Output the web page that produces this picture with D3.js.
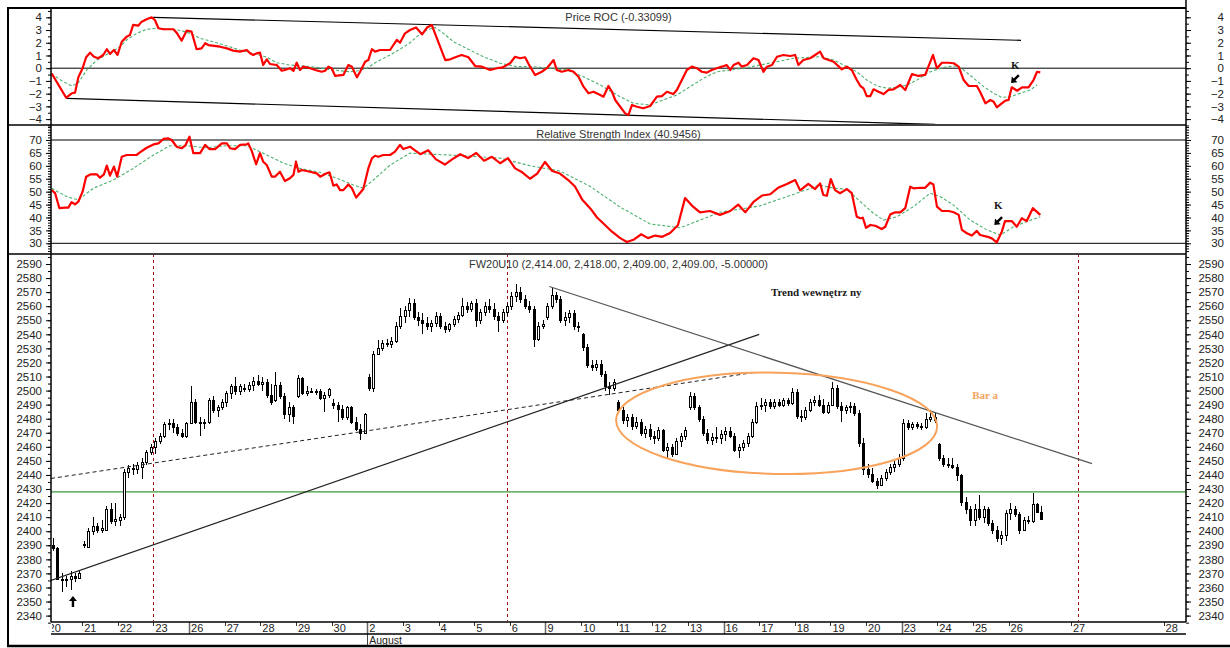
<!DOCTYPE html>
<html>
<head>
<meta charset="utf-8">
<script src="https://d3js.org/d3.v7.min.js"></script>
<style>
body { margin: 0; background: #fff; }
svg { display: block; }
</style>
</head>
<body>
<div id="chart"></div>
<script>
// ---- data (x is in trading-day units: 0 = start of Jul 20) ----
var dayLabels = ["20","21","22","23","26","27","28","29","30","2","3","4","5","6","9","10","11","12","13","16","17","18","19","20","23","24","25","26"];
var futureLabels = ["27", "28"];
var futureSlots = [28.75, 31.35];
var weekStartSlots = [4, 9, 14, 19, 24];
var monthLabel = "August";
var monthStartSlot = 9;
var markerDays = [3.0, 12.92, 28.95];

var rocTitle = "Price ROC (-0.33099)";
var rsiTitle = "Relative Strength Index (40.9456)";
var priceTitle = "FW20U10 (2,414.00, 2,418.00, 2,409.00, 2,409.00, -5.00000)";

var rocTicks = [-4, -3, -2, -1, 0, 1, 2, 3, 4];
var rsiTicks = [30, 35, 40, 45, 50, 55, 60, 65, 70];
var priceTicks = [2340,2350,2360,2370,2380,2390,2400,2410,2420,2430,2440,2450,2460,2470,2480,2490,2500,2510,2520,2530,2540,2550,2560,2570,2580,2590];
var rocLevels = [0];
var rsiLevels = [30, 70];
var supportLevel = 2428;

// hourly candles, 8 per session: [open, high, low, close]
var ohlc = [
  [[2392,2396,2388,2390],[2390,2395,2386,2388],[2388,2389,2365,2366],[2366,2370,2357,2365],[2365,2368,2360,2366],[2366,2372,2358,2368],[2368,2370,2364,2367],[2367,2372,2366,2370]],
  [[2390,2393,2388,2391],[2389,2402,2388,2400],[2400,2410,2397,2404],[2404,2406,2399,2401],[2401,2408,2399,2402],[2401,2418,2400,2416],[2416,2420,2405,2407],[2407,2420,2404,2409]],
  [[2408,2412,2404,2410],[2410,2444,2408,2442],[2442,2447,2438,2445],[2445,2448,2440,2444],[2444,2449,2441,2447],[2446,2452,2437,2449],[2449,2458,2447,2456],[2456,2462,2454,2460]],
  [[2460,2466,2455,2464],[2464,2470,2462,2468],[2468,2478,2466,2476],[2476,2480,2472,2477],[2477,2480,2470,2474],[2474,2476,2468,2470],[2470,2473,2466,2468],[2468,2478,2466,2477]],
  [[2477,2503,2476,2492],[2492,2494,2476,2478],[2478,2481,2468,2477],[2477,2480,2473,2478],[2478,2495,2476,2493],[2493,2496,2484,2486],[2486,2490,2481,2488],[2488,2494,2486,2492]],
  [[2492,2500,2488,2498],[2498,2505,2494,2503],[2503,2510,2497,2500],[2500,2505,2497,2503],[2502,2505,2499,2501],[2501,2506,2499,2504],[2504,2510,2500,2507],[2507,2511,2503,2505]],
  [[2505,2510,2500,2506],[2506,2508,2495,2497],[2497,2505,2490,2492],[2493,2513,2492,2504],[2504,2506,2494,2496],[2496,2498,2480,2483],[2483,2492,2478,2488],[2488,2490,2476,2482]],
  [[2496,2511,2495,2509],[2509,2510,2497,2498],[2498,2503,2496,2500],[2500,2502,2498,2499],[2499,2501,2497,2500],[2500,2501,2493,2495],[2495,2499,2485,2497],[2497,2502,2495,2501]],
  [[2491,2494,2487,2490],[2490,2492,2478,2487],[2487,2490,2479,2481],[2481,2489,2479,2488],[2488,2489,2476,2478],[2478,2481,2471,2473],[2473,2476,2465,2470],[2470,2484,2469,2483]],
  [[2510,2512,2500,2502],[2502,2528,2499,2526],[2526,2536,2525,2530],[2530,2536,2528,2534],[2534,2537,2531,2533],[2533,2538,2530,2535],[2535,2549,2534,2546],[2546,2559,2544,2553]],
  [[2553,2560,2548,2557],[2557,2566,2552,2562],[2562,2565,2550,2552],[2552,2556,2546,2550],[2550,2555,2540,2548],[2548,2552,2543,2546],[2546,2550,2542,2548],[2548,2556,2545,2553]],
  [[2553,2555,2544,2546],[2546,2549,2541,2544],[2544,2548,2542,2547],[2547,2553,2545,2551],[2551,2556,2548,2554],[2554,2566,2552,2560],[2560,2563,2555,2558],[2558,2564,2556,2562]],
  [[2562,2565,2545,2550],[2550,2558,2547,2556],[2556,2563,2553,2560],[2560,2565,2555,2558],[2558,2562,2550,2553],[2553,2556,2542,2550],[2550,2558,2548,2556],[2556,2562,2553,2560]],
  [[2560,2570,2557,2567],[2567,2576,2563,2570],[2570,2574,2562,2565],[2565,2568,2558,2560],[2560,2564,2555,2558],[2558,2560,2531,2537],[2537,2549,2535,2546],[2546,2550,2544,2547]],
  [[2552,2562,2550,2560],[2560,2573,2558,2568],[2568,2570,2562,2565],[2565,2567,2548,2550],[2550,2556,2546,2552],[2552,2557,2548,2555],[2555,2557,2543,2546],[2546,2549,2542,2545]],
  [[2540,2541,2528,2531],[2531,2533,2516,2518],[2518,2522,2514,2517],[2517,2522,2514,2519],[2519,2522,2510,2512],[2512,2514,2500,2503],[2503,2506,2497,2502],[2502,2508,2500,2506]],
  [[2492,2493,2484,2486],[2486,2488,2476,2479],[2479,2483,2474,2481],[2481,2483,2472,2475],[2475,2481,2473,2478],[2478,2480,2468,2470],[2470,2475,2466,2473],[2473,2476,2465,2468]],
  [[2468,2471,2462,2466],[2466,2474,2464,2472],[2472,2473,2456,2458],[2458,2463,2452,2460],[2460,2462,2453,2455],[2455,2466,2454,2464],[2464,2470,2460,2468],[2468,2474,2465,2472]],
  [[2488,2499,2486,2496],[2496,2498,2486,2488],[2488,2490,2478,2480],[2480,2482,2468,2470],[2470,2473,2462,2465],[2465,2470,2461,2467],[2467,2474,2463,2466],[2466,2472,2462,2469]],
  [[2469,2474,2464,2471],[2471,2474,2466,2468],[2468,2470,2456,2458],[2458,2462,2452,2460],[2460,2465,2457,2463],[2463,2470,2460,2468],[2468,2480,2466,2478],[2478,2492,2476,2489]],
  [[2489,2495,2486,2490],[2490,2494,2485,2492],[2492,2494,2487,2489],[2489,2494,2487,2492],[2492,2494,2488,2490],[2490,2495,2488,2493],[2493,2495,2489,2491],[2491,2502,2490,2499]],
  [[2499,2501,2480,2482],[2482,2486,2478,2481],[2481,2488,2479,2486],[2486,2494,2485,2492],[2492,2496,2489,2493],[2493,2497,2488,2490],[2490,2494,2483,2485],[2485,2492,2483,2490]],
  [[2490,2506,2489,2502],[2502,2504,2487,2489],[2489,2492,2478,2486],[2486,2490,2483,2488],[2488,2492,2484,2489],[2489,2491,2482,2484],[2484,2486,2460,2463],[2463,2466,2440,2444]],
  [[2444,2448,2438,2441],[2441,2445,2434,2436],[2436,2438,2430,2433],[2433,2440,2432,2438],[2438,2444,2436,2442],[2442,2448,2440,2446],[2446,2450,2442,2448],[2448,2455,2446,2452]],
  [[2452,2480,2450,2477],[2477,2479,2472,2474],[2474,2478,2472,2476],[2476,2478,2473,2475],[2475,2477,2472,2474],[2474,2484,2473,2480],[2480,2486,2478,2481],[2481,2484,2477,2479]],
  [[2462,2463,2450,2452],[2452,2454,2446,2448],[2448,2452,2445,2447],[2447,2452,2444,2446],[2446,2448,2436,2440],[2440,2441,2418,2421],[2421,2424,2412,2416],[2416,2418,2404,2408]],
  [[2408,2419,2404,2416],[2416,2426,2408,2410],[2410,2418,2406,2416],[2416,2417,2404,2406],[2406,2408,2398,2401],[2401,2404,2392,2395],[2395,2400,2390,2397],[2397,2415,2393,2413]],
  [[2413,2420,2408,2416],[2416,2418,2410,2412],[2412,2414,2398,2401],[2401,2410,2400,2408],[2408,2411,2405,2407],[2407,2427,2406,2419],[2419,2420,2413,2414],[2414,2418,2409,2409]]
];

// Price ROC [day, value]
var rocLine = [[0.14,-0.40],[0.55,-2.32],[0.71,-1.97],[0.80,-1.92],[0.89,-0.72],[1.01,0.0],[1.11,0.86],[1.22,1.22],[1.33,0.90],[1.45,0.78],[1.59,1.04],[1.69,1.49],[1.78,1.12],[1.89,1.43],[1.99,1.04],[2.11,2.08],[2.25,2.48],[2.34,2.61],[2.43,3.40],[2.57,3.34],[2.67,3.66],[2.81,3.84],[2.95,4.0],[3.04,3.79],[3.14,3.14],[3.28,3.06],[3.56,3.06],[3.65,2.79],[3.79,2.16],[3.93,2.95],[4.07,2.87],[4.21,1.49],[4.35,1.56],[4.45,1.96],[4.54,1.82],[4.87,1.69],[5.06,1.56],[5.24,1.38],[5.43,1.30],[5.62,1.43],[5.71,1.17],[5.80,1.04],[5.90,1.17],[5.99,1.22],[6.08,0.25],[6.18,0.70],[6.27,0.33],[6.46,0.25],[6.60,-0.20],[6.69,-0.14],[6.83,0.0],[6.93,-0.20],[7.02,0.43],[7.11,-0.14],[7.21,0.12],[7.40,0.0],[7.54,-0.14],[7.72,-0.28],[7.82,-0.20],[7.91,0.12],[8.00,0.0],[8.10,-0.61],[8.33,-0.53],[8.47,0.25],[8.57,0.12],[8.71,-0.72],[8.80,-0.28],[8.94,0.51],[9.03,0.64],[9.13,1.49],[9.22,1.30],[9.36,1.43],[9.64,1.43],[9.83,2.22],[9.92,2.0],[10.06,2.74],[10.20,3.0],[10.37,3.2],[10.54,2.66],[10.68,3.2],[10.81,3.40],[11.19,0.64],[11.33,0.70],[11.51,0.90],[11.65,1.04],[11.84,0.86],[12.03,0.17],[12.22,0.12],[12.45,-0.14],[12.64,0.0],[12.78,0.04],[13.01,0.39],[13.15,0.90],[13.29,0.78],[13.43,0.86],[13.57,0.12],[13.71,-0.53],[13.90,-0.28],[14.04,0.0],[14.23,0.64],[14.32,-0.14],[14.46,-0.28],[14.65,-0.14],[14.79,-0.28],[14.93,-0.67],[15.07,-1.45],[15.21,-1.97],[15.35,-1.85],[15.54,-2.11],[15.63,-2.24],[15.77,-1.40],[15.87,-1.85],[15.96,-2.50],[16.10,-3.03],[16.24,-3.55],[16.33,-3.68],[16.43,-2.89],[16.57,-3.03],[16.75,-3.15],[16.94,-2.97],[17.13,-2.24],[17.27,-2.19],[17.41,-1.85],[17.59,-2.03],[17.69,-1.71],[17.83,-0.93],[17.97,-0.14],[18.11,0.12],[18.25,0.0],[18.39,-0.28],[18.53,-0.35],[18.67,-0.14],[18.81,0.0],[18.95,0.12],[19.09,0.25],[19.19,-0.14],[19.28,0.25],[19.42,0.43],[19.51,0.12],[19.66,0.25],[19.84,0.78],[19.98,0.64],[20.12,-0.28],[20.22,0.12],[20.36,0.25],[20.50,0.90],[20.68,1.04],[20.87,0.96],[21.01,1.04],[21.10,0.25],[21.24,0.64],[21.43,0.78],[21.57,1.04],[21.71,1.30],[21.81,0.78],[22.09,0.51],[22.32,-0.09],[22.46,0.12],[22.60,-0.14],[22.74,-0.93],[22.84,-1.40],[22.93,-1.58],[23.02,-2.19],[23.12,-2.19],[23.21,-1.66],[23.35,-1.85],[23.49,-2.03],[23.63,-1.71],[23.77,-1.66],[23.96,-1.32],[24.10,-1.71],[24.29,-0.46],[24.47,-0.61],[24.66,-0.53],[24.75,0.12],[24.88,1.04],[24.99,0.0],[25.13,0.43],[25.31,0.43],[25.46,0.39],[25.60,0.12],[25.74,-0.93],[25.88,-1.40],[26.11,-1.40],[26.20,-1.85],[26.35,-2.76],[26.49,-2.50],[26.58,-2.63],[26.67,-3.07],[26.81,-2.76],[26.91,-2.55],[27.00,-2.50],[27.09,-1.50],[27.24,-1.77],[27.38,-1.50],[27.56,-1.50],[27.70,-0.93],[27.80,-0.28],[27.89,-0.33]];
var rocSignal = [[0.14,-0.46],[0.47,-1.06],[0.71,-1.40],[0.89,-1.14],[1.13,-0.14],[1.41,0.64],[1.78,1.22],[2.06,1.69],[2.25,2.22],[2.53,2.74],[2.81,3.06],[3.09,3.14],[3.46,3.08],[3.79,2.95],[4.07,2.69],[4.31,2.35],[4.68,2.08],[5.06,1.75],[5.43,1.43],[5.80,1.17],[6.18,0.86],[6.46,0.43],[6.83,0.25],[7.21,0.17],[7.58,0.07],[7.91,-0.09],[8.24,-0.20],[8.52,-0.28],[8.75,-0.20],[8.99,0.0],[9.27,0.51],[9.64,1.04],[9.92,1.49],[10.20,2.0],[10.39,2.48],[10.67,3.0],[10.90,3.21],[11.14,2.74],[11.42,2.08],[11.79,1.56],[12.26,0.90],[12.73,0.39],[13.20,0.12],[13.66,0.12],[14.13,0.0],[14.60,-0.14],[15.07,-0.67],[15.54,-1.32],[16.01,-2.11],[16.47,-2.76],[16.94,-2.89],[17.31,-2.50],[17.69,-2.11],[18.06,-1.45],[18.44,-0.79],[18.81,-0.28],[19.19,-0.14],[19.56,0.0],[20.03,0.25],[20.50,0.51],[20.96,0.78],[21.43,0.86],[21.71,0.90],[22.09,0.64],[22.46,0.12],[22.74,-0.28],[23.02,-0.93],[23.31,-1.40],[23.59,-1.58],[23.87,-1.50],[24.15,-1.32],[24.43,-0.93],[24.71,-0.40],[24.99,-0.09],[25.27,0.12],[25.55,0.17],[25.74,-0.14],[26.02,-0.79],[26.30,-1.45],[26.58,-1.97],[26.81,-2.29],[27.05,-2.24],[27.33,-1.97],[27.61,-1.71],[27.80,-1.32]];
var rocUpperTrend = [[2.99, 4.0], [27.35, 2.19]];
var rocLowerTrend = [[0.56, -2.37], [24.94, -4.42]];

// RSI [day, value]
var rsiLine = [[0.14,50.6],[0.24,49.4],[0.36,43.6],[0.52,43.8],[0.61,43.8],[0.70,45.9],[0.80,45.1],[0.89,46.1],[1.01,50.0],[1.11,55.8],[1.24,56.7],[1.41,56.7],[1.50,55.4],[1.61,56.7],[1.69,60.1],[1.78,56.2],[1.89,59.7],[1.98,55.8],[2.11,63.5],[2.25,64.2],[2.53,64.2],[2.62,65.2],[2.81,67.0],[3.00,68.3],[3.14,68.7],[3.28,70.4],[3.42,70.6],[3.51,70.0],[3.65,67.4],[3.79,66.8],[3.89,67.8],[4.01,71.3],[4.12,64.9],[4.31,64.9],[4.45,68.1],[4.57,66.5],[4.73,66.5],[4.92,68.7],[5.06,68.7],[5.15,66.8],[5.29,66.5],[5.43,68.1],[5.62,68.3],[5.66,68.7],[5.76,65.7],[5.88,60.6],[5.99,64.9],[6.08,61.6],[6.18,60.3],[6.32,55.8],[6.41,55.8],[6.55,57.7],[6.69,54.1],[6.83,55.2],[6.93,56.5],[7.00,61.6],[7.07,57.7],[7.16,58.4],[7.39,57.7],[7.58,57.1],[7.68,55.8],[7.86,57.1],[7.94,57.5],[8.05,52.3],[8.14,52.8],[8.24,50.6],[8.33,50.6],[8.47,52.8],[8.57,51.3],[8.69,47.7],[8.75,48.7],[8.89,51.0],[9.03,59.0],[9.13,62.9],[9.22,63.9],[9.31,63.5],[9.45,64.2],[9.64,64.2],[9.78,65.5],[9.92,68.1],[10.01,66.5],[10.20,67.4],[10.29,66.5],[10.49,64.5],[10.71,66.0],[10.93,62.5],[11.18,60.5],[11.38,62.5],[11.61,64.5],[11.83,63.0],[12.06,65.0],[12.28,62.0],[12.50,63.5],[12.73,61.0],[12.95,63.0],[13.15,59.0],[13.35,57.5],[13.57,55.0],[13.77,57.0],[13.99,61.5],[14.19,58.0],[14.41,57.0],[14.64,54.5],[14.83,52.0],[15.03,47.0],[15.26,43.5],[15.45,40.0],[15.68,37.0],[15.87,34.5],[16.10,32.0],[16.29,30.5],[16.49,31.5],[16.69,33.5],[16.88,32.0],[17.08,33.0],[17.28,32.5],[17.50,34.0],[17.72,37.0],[17.92,47.5],[18.12,44.5],[18.34,42.0],[18.62,42.5],[18.90,41.0],[19.19,42.5],[19.41,45.0],[19.61,42.0],[19.84,46.0],[20.08,48.5],[20.31,49.0],[20.53,51.5],[20.78,53.0],[21.01,54.5],[21.15,50.5],[21.38,53.0],[21.57,51.0],[21.71,53.2],[21.80,48.7],[21.90,48.4],[22.01,54.9],[22.13,50.6],[22.27,49.4],[22.46,51.0],[22.60,49.4],[22.74,40.3],[22.84,39.7],[22.91,39.9],[23.00,36.0],[23.12,37.1],[23.26,36.8],[23.44,35.5],[23.54,36.4],[23.68,41.2],[23.82,42.0],[23.96,42.0],[24.10,43.6],[24.24,51.9],[24.33,51.3],[24.52,51.5],[24.66,51.5],[24.80,53.5],[24.89,52.8],[24.99,44.2],[25.13,42.5],[25.32,42.5],[25.46,42.0],[25.60,41.0],[25.69,35.2],[25.83,33.9],[25.97,33.0],[26.11,34.8],[26.20,33.2],[26.39,32.6],[26.53,31.9],[26.67,30.4],[26.81,34.5],[26.90,38.6],[27.09,38.6],[27.23,36.4],[27.37,39.7],[27.51,38.6],[27.68,43.6],[27.89,41.0]];
var rsiSignal = [[0.14,51.3],[0.56,48.1],[0.89,46.8],[1.31,51.3],[1.87,54.5],[2.43,59.0],[3.00,64.2],[3.46,67.8],[3.93,67.8],[4.49,67.0],[5.06,67.8],[5.62,67.8],[6.08,64.9],[6.65,61.0],[7.11,59.0],[7.67,57.5],[8.14,55.2],[8.61,52.6],[8.89,51.3],[9.17,54.5],[9.64,60.3],[10.20,64.9],[10.77,64.5],[11.61,64.0],[12.73,63.0],[13.57,60.0],[14.41,58.0],[15.26,52.0],[16.10,44.0],[16.94,37.5],[17.78,36.0],[18.34,39.0],[18.90,42.0],[20.02,44.5],[20.87,48.5],[21.71,52.6],[22.09,51.3],[22.46,51.0],[22.84,46.1],[23.21,41.6],[23.49,39.0],[23.87,40.3],[24.33,44.2],[24.80,49.4],[25.08,48.1],[25.46,44.8],[25.92,39.0],[26.39,35.2],[26.77,33.2],[27.14,36.4],[27.51,38.4],[27.89,40.3]];

// price-panel drawings [day, price]
var trendUp = [[0.124, 2365], [20.0, 2540]];
var trendSupport = [[0.124, 2437.5], [19.89, 2513]];
var trendDown = [[14.11, 2574], [29.34, 2448]];
var zone = {day: 20.49, price: 2476.7, days: 4.506, points: 36};
var notes = [
  {text: "Trend wewnętrz ny", day: 20.33, price: 2567, color: "#1a1a1a"},
  {text: "Bar a", day: 25.98, price: 2494, color: "#f4a460"}
];

// ---- layout ----
var W = 1230, H = 648;
var L = 51, R = 1186;
var rocTop = 8, rocBot = 125, rsiBot = 254, mainBot = 622, axisMid = 634, frameBot = 646;
var sans = "'Liberation Sans', Arial, sans-serif";
var serif = "'Liberation Serif', 'Times New Roman', serif";

var svg = d3.select("#chart").append("svg").attr("width", W).attr("height", H);

var x = d3.scaleLinear().domain([0.124, 31.98]).range([L, R]);
var yRoc = d3.scaleLinear().domain([-4, 4]).range([119.1, 17.3]);
var yRsi = d3.scaleLinear().domain([30, 70]).range([243.3, 140]);
var yPx = d3.scaleLinear().domain([2340, 2590]).range([615.6, 264]);

var defs = svg.append("defs");
function clip(id, x0, y0, x1, y1) {
    defs.append("clipPath").attr("id", id).append("rect")
        .attr("x", x0).attr("y", y0).attr("width", x1 - x0).attr("height", y1 - y0);
}
clip("cRoc", L, rocTop + 1, R, rocBot - 1);
clip("cRsi", L, rocBot + 1, R, rsiBot - 1);
clip("cMain", L, rsiBot + 1, R, mainBot - 1);
clip("cAxis", L + 1, mainBot, R, frameBot);

// frame lines
function hline(y, x1, x2, w) {
    svg.append("line").attr("x1", x1).attr("x2", x2).attr("y1", y).attr("y2", y)
        .attr("stroke", "#000").attr("stroke-width", w);
}
function vline(xp, y1, y2, w, col) {
    svg.append("line").attr("x1", xp).attr("x2", xp).attr("y1", y1).attr("y2", y2)
        .attr("stroke", col || "#000").attr("stroke-width", w);
}

// y axes: minor ticks + labelled ticks, both sides
function yAxes(scale, major, minor) {
    [[L, d3.axisLeft], [R, d3.axisRight]].forEach(function(s) {
        svg.append("g").attr("transform", "translate(" + s[0] + ",0)")
            .call(s[1](scale).tickValues(minor).tickSize(3).tickFormat(""))
            .call(function(g) { g.select(".domain").remove(); });
        var g = svg.append("g").attr("transform", "translate(" + s[0] + ",0)")
            .call(s[1](scale).tickValues(major).tickSize(5).tickPadding(4).tickFormat(d3.format("d")))
            .call(function(g) { g.select(".domain").remove(); });
        g.attr("font-family", sans).attr("font-size", 11.5);
        g.selectAll("text").attr("fill", "#222");
        if (s[0] == R) g.selectAll("text").attr("text-anchor", "end").attr("x", 38);
    });
}
yAxes(yRoc, rocTicks, d3.range(-4.5, 4.6, 0.5));
yAxes(yRsi, rsiTicks, d3.range(27, 76, 1));
yAxes(yPx, priceTicks, d3.range(2335, 2596, 5));

var line = function(ys) {
    return d3.line().x(function(d) { return x(d[0]); }).y(function(d) { return ys(d[1]); });
};

// ---- ROC panel ----
var gRoc = svg.append("g").attr("clip-path", "url(#cRoc)");
gRoc.selectAll(".lvl").data(rocLevels).enter().append("line")
    .attr("x1", L).attr("x2", R).attr("y1", function(d) { return yRoc(d); }).attr("y2", function(d) { return yRoc(d); })
    .attr("stroke", "#000").attr("stroke-width", 1);
[rocUpperTrend, rocLowerTrend].forEach(function(t) {
    gRoc.append("path").attr("d", line(yRoc)(t)).attr("fill", "none").attr("stroke", "#000").attr("stroke-width", 1.2);
});
gRoc.append("path").attr("d", line(yRoc)(rocSignal)).attr("fill", "none")
    .attr("stroke", "#4cb06e").attr("stroke-width", 1.1).attr("stroke-dasharray", "3,2");
gRoc.append("path").attr("d", line(yRoc)(rocLine)).attr("fill", "none")
    .attr("stroke", "#ff0000").attr("stroke-width", 2.2).attr("stroke-linejoin", "round");

// ---- RSI panel ----
var gRsi = svg.append("g").attr("clip-path", "url(#cRsi)");
gRsi.selectAll(".lvl").data(rsiLevels).enter().append("line")
    .attr("x1", L).attr("x2", R).attr("y1", function(d) { return yRsi(d); }).attr("y2", function(d) { return yRsi(d); })
    .attr("stroke", "#000").attr("stroke-width", 1);
gRsi.append("path").attr("d", line(yRsi)(rsiSignal)).attr("fill", "none")
    .attr("stroke", "#4cb06e").attr("stroke-width", 1.1).attr("stroke-dasharray", "3,2");
gRsi.append("path").attr("d", line(yRsi)(rsiLine)).attr("fill", "none")
    .attr("stroke", "#ff0000").attr("stroke-width", 2.2).attr("stroke-linejoin", "round");

// ---- price panel ----
var gMain = svg.append("g").attr("clip-path", "url(#cMain)");
gMain.append("line").attr("x1", L).attr("x2", R)
    .attr("y1", yPx(supportLevel)).attr("y2", yPx(supportLevel))
    .attr("stroke", "#3d9a3d").attr("stroke-width", 1.2);
gMain.selectAll(".mark").data(markerDays).enter().append("line")
    .attr("x1", function(d) { return Math.round(x(d)) + 0.5; }).attr("x2", function(d) { return Math.round(x(d)) + 0.5; })
    .attr("y1", rsiBot).attr("y2", mainBot)
    .attr("stroke", "#a01010").attr("stroke-width", 1).attr("stroke-dasharray", "3,3");

var bars = [];
ohlc.forEach(function(day, d) {
    day.forEach(function(b, j) {
        bars.push({t: d + (j + 0.5) / day.length, o: b[0], h: b[1], l: b[2], c: b[3]});
    });
});
var bar = gMain.selectAll(".bar").data(bars).enter().append("g").attr("class", "bar");
bar.append("line")
    .attr("x1", function(d) { return Math.floor(x(d.t)) + 0.5; })
    .attr("x2", function(d) { return Math.floor(x(d.t)) + 0.5; })
    .attr("y1", function(d) { return Math.round(yPx(d.h)); })
    .attr("y2", function(d) { return Math.round(yPx(d.l)); })
    .attr("stroke", "#000").attr("stroke-width", 1);
bar.append("rect")
    .attr("x", function(d) { return Math.floor(x(d.t)) - 0.5; })
    .attr("width", 2)
    .attr("y", function(d) { return Math.round(yPx(Math.max(d.o, d.c))) + 0.5; })
    .attr("height", function(d) { return Math.max(1, Math.round(yPx(Math.min(d.o, d.c))) - Math.round(yPx(Math.max(d.o, d.c)))); })
    .attr("fill", function(d) { return d.c > d.o ? "#fff" : "#000"; })
    .attr("stroke", "#000").attr("stroke-width", 1);

gMain.append("path").attr("d", line(yPx)(trendSupport)).attr("fill", "none")
    .attr("stroke", "#222").attr("stroke-width", 1).attr("stroke-dasharray", "4,3");
gMain.append("path").attr("d", line(yPx)(trendUp)).attr("fill", "none")
    .attr("stroke", "#222").attr("stroke-width", 1.2);
gMain.append("path").attr("d", line(yPx)(trendDown)).attr("fill", "none")
    .attr("stroke", "#555").attr("stroke-width", 1.3);
gMain.append("ellipse")
    .attr("cx", x(zone.day)).attr("cy", yPx(zone.price))
    .attr("rx", x(zone.day + zone.days) - x(zone.day))
    .attr("ry", yPx(zone.price - zone.points) - yPx(zone.price))
    .attr("transform", "rotate(1.2," + x(zone.day) + "," + yPx(zone.price) + ")")
    .attr("fill", "none").attr("stroke", "#f7a35c").attr("stroke-width", 2);

gMain.selectAll(".note").data(notes).enter().append("text")
    .attr("x", function(d) { return x(d.day); }).attr("y", function(d) { return yPx(d.price); })
    .attr("font-family", serif).attr("font-weight", "bold").attr("font-size", 11)
    .attr("fill", function(d) { return d.color; })
    .text(function(d) { return d.text; });

// arrows (shape points up at origin)
function arrow(px, py, angle) {
    svg.append("path")
        .attr("d", "M0,0 L-4,5 L-1.2,5 L-1.2,11 L1.2,11 L1.2,5 L4,5 Z")
        .attr("transform", "translate(" + px + "," + py + ") rotate(" + angle + ")")
        .attr("fill", "#000");
}
arrow(x(0.74), yPx(2354), 0);
arrow(x(27.07), yRoc(-1.16), 225);
arrow(x(26.6), yRsi(37.1), 225);
svg.append("text").attr("x", x(27.19)).attr("y", yRoc(-0.05)).attr("text-anchor", "middle")
    .attr("font-family", serif).attr("font-weight", "bold").attr("font-size", 11).attr("fill", "#1a1a1a").text("K");
svg.append("text").attr("x", x(26.71)).attr("y", yRsi(43.3)).attr("text-anchor", "middle")
    .attr("font-family", serif).attr("font-weight", "bold").attr("font-size", 11).attr("fill", "#1a1a1a").text("K");

// titles
[[rocTitle, 21], [rsiTitle, 138], [priceTitle, 268]].forEach(function(t) {
    svg.append("text").attr("x", (L + R) / 2).attr("y", t[1]).attr("text-anchor", "middle")
        .attr("font-family", sans).attr("font-size", 11).attr("fill", "#333").text(t[0]);
});

// ---- date axis ----
var gAx = svg.append("g").attr("clip-path", "url(#cAxis)");
var ticks = dayLabels.map(function(l, i) { return {label: l, t: i}; })
    .concat(futureLabels.map(function(l, i) { return {label: l, t: futureSlots[i]}; }));
gAx.selectAll(".dt").data(ticks).enter().append("line")
    .attr("x1", function(d) { return Math.round(x(d.t)) + 0.5; }).attr("x2", function(d) { return Math.round(x(d.t)) + 0.5; })
    .attr("y1", mainBot).attr("y2", function(d) { return weekStartSlots.indexOf(d.t) >= 0 ? axisMid : mainBot + 4; })
    .attr("stroke", function(d) { return weekStartSlots.indexOf(d.t) >= 0 ? "#666" : "#333"; })
    .attr("stroke-width", function(d) { return weekStartSlots.indexOf(d.t) >= 0 ? 1.5 : 1; });
gAx.selectAll(".dl").data(ticks).enter().append("text")
    .attr("x", function(d) { return x(d.t) + 2; }).attr("y", axisMid - 2)
    .attr("font-family", sans).attr("font-size", 11).attr("fill", "#222")
    .text(function(d) { return d.label; });
vline(Math.round(x(monthStartSlot)) + 0.5, axisMid, frameBot, 1, "#444");
svg.append("text").attr("x", x(monthStartSlot) + 2).attr("y", frameBot - 2)
    .attr("font-family", sans).attr("font-size", 10.5).attr("fill", "#222").text(monthLabel);

// frame
hline(rocTop, 7, R, 2);
hline(rocBot, 7, R, 1.5);
hline(rsiBot, 7, R, 1.5);
hline(mainBot, L, R, 1.5);
hline(axisMid, L, R, 1.5);
hline(frameBot, 7, W, 2.5);
vline(8, rocTop - 1, frameBot, 2);
vline(L, rocTop, mainBot, 1.5);
vline(R, 0, mainBot, 1.5);
</script>
</body>
</html>
